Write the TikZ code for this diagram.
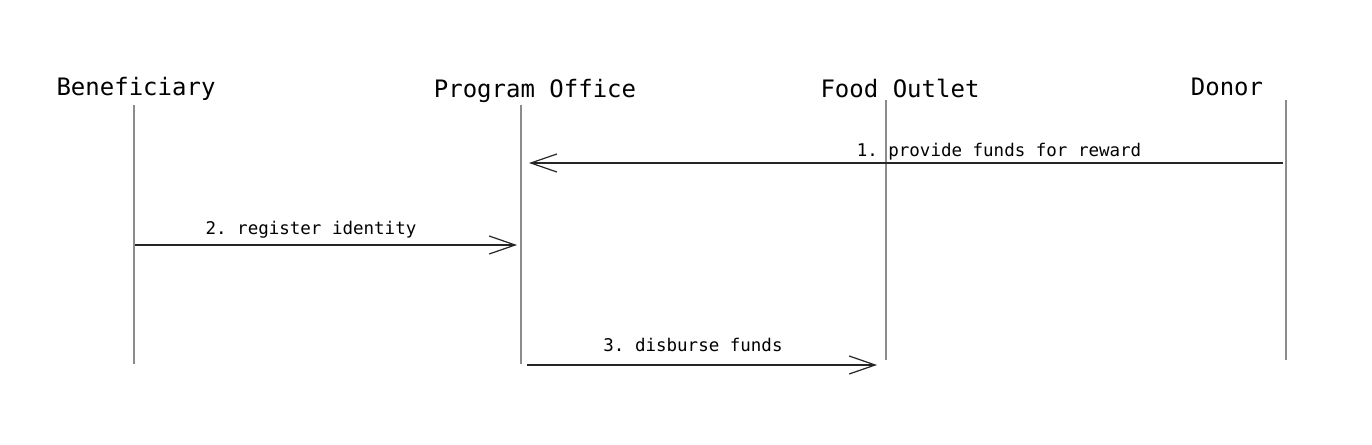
\documentclass[tikz,border=0pt]{standalone}
\usepackage{fontspec}
\setmonofont{DejaVu Sans Mono}
\usetikzlibrary{arrows.meta}
\begin{document}
\begin{tikzpicture}[x=1pt,y=-1pt,
  actor/.style={font=\ttfamily\fontsize{24}{28}\selectfont, inner sep=0pt, anchor=center},
  lifeline/.style={draw=black!45, line width=1.4pt},
  msg/.style={draw=black!85, line width=1.3pt, -{Straight Barb[length=26pt,width=18pt,line width=1.2pt]}},
  msglabel/.style={font=\ttfamily\fontsize{17.5}{20}\selectfont, inner sep=0pt, anchor=center}]
\useasboundingbox[fill=white] (0,0) rectangle (1372,444);
% actors
\node[actor] (ben) at (136,89) {Beneficiary};
\node[actor] (off) at (535,91) {Program Office};
\node[actor] (food) at (900,88) {Food Outlet};
\node[actor] (don) at (1227,87) {Donor};
% lifelines
\coordinate (benT) at (134,105);
\coordinate (benB) at (134,364);
\coordinate (offT) at (521,105);
\coordinate (offB) at (521,364);
\coordinate (foodT) at (886,100);
\coordinate (foodB) at (886,360);
\coordinate (donT) at (1286,100);
\coordinate (donB) at (1286,360);
\draw[lifeline] (benT) -- (benB);
\draw[lifeline] (offT) -- (offB);
\draw[lifeline] (foodT) -- (foodB);
\draw[lifeline] (donT) -- (donB);
% message end points
\coordinate (m1s) at (1283,163);
\coordinate (m1e) at (529,163);
\coordinate (m2s) at (135,245);
\coordinate (m2e) at (517,245);
\coordinate (m3s) at (527,365);
\coordinate (m3e) at (877,365);
\draw[msg] (m1s) -- (m1e);
\draw[msg] (m2s) -- (m2e);
\draw[msg] (m3s) -- (m3e);
% labels
\node[msglabel] (l1) at (999,152) {1. provide funds for reward};
\node[msglabel] (l2) at (311,230) {2. register identity};
\node[msglabel] (l3) at (693,345) {3. disburse funds};
\end{tikzpicture}
\end{document}
